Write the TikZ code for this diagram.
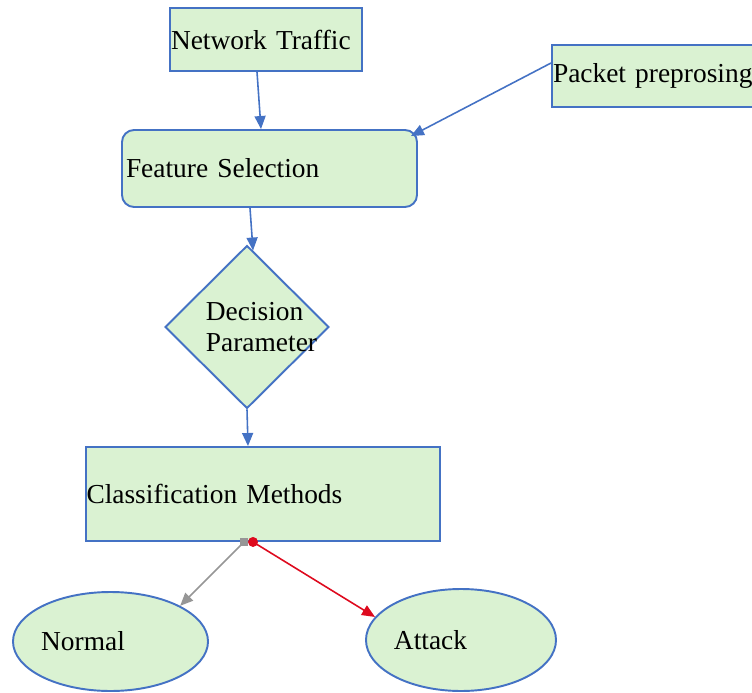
\documentclass[tikz,border=0pt]{standalone}
\usepackage{fontspec}
\setmainfont{Liberation Serif}
\usetikzlibrary{arrows.meta}
\usetikzlibrary{shapes.geometric}

\definecolor{lineblue}{RGB}{68,114,196}
\definecolor{boxgreen}{RGB}{218,242,210}
\definecolor{arrowgray}{RGB}{150,150,150}
\definecolor{arrowred}{RGB}{222,10,30}

\tikzset{
  box/.style={draw=lineblue, fill=boxgreen, line width=1.1pt, rectangle,
    align=left, inner ysep=0pt},
  roundbox/.style={box, rounded corners=0.24cm},
  decisionbox/.style={draw=lineblue, fill=boxgreen, line width=1.1pt, diamond,
    inner sep=0pt, minimum width=3.28cm, minimum height=3.26cm},
  endbox/.style={draw=lineblue, fill=boxgreen, line width=1.1pt, ellipse,
    inner sep=0pt},
  flow/.style={draw=lineblue, line width=0.9pt,
    -{Triangle[length=0.26cm, width=0.22cm]}},
}

\begin{document}
\begin{tikzpicture}[font=\fontsize{15.6}{17.6}\selectfont]
\useasboundingbox (0,0) rectangle (15.04,-13.86);

% input boxes
\node[box, inner xsep=0.02cm, text width=3.80cm, minimum height=1.26cm]
  (traffic) at (5.32,-0.79) {Network Traffic};
\node[box, inner xsep=0.02cm, text width=4.36cm, minimum height=1.24cm]
  (packet) at (13.24,-1.52) {Packet preprosing};
\node[roundbox, inner xsep=0.08cm, text width=5.74cm, minimum height=1.54cm]
  (feature) at (5.39,-3.37) {Feature Selection};

% decision and classifier
\node[decisionbox, label={[align=left, xshift=0.29cm]center:Decision\\Parameter}]
  (decision) at (4.94,-6.54) {};
\node[box, inner xsep=0.01cm, text width=7.06cm, minimum height=1.88cm]
  (classify) at (5.26,-9.88) {Classification Methods};

% outcomes
\node[endbox, minimum width=3.9cm, minimum height=1.98cm,
  label={[xshift=-0.55cm]center:Normal}] (normal) at (2.21,-12.83) {};
\node[endbox, minimum width=3.8cm, minimum height=2.04cm,
  label={[xshift=-0.61cm]center:Attack}] (attack) at (9.22,-12.8) {};

% connectors
\draw[flow] ([xshift=-0.18cm]traffic.south) -- ([xshift=-0.17cm]feature.north);
\draw[flow] ([yshift=0.26cm]packet.west) -- ([shift={(-0.14cm,-0.14cm)}]feature.north east);
\draw[flow] ([xshift=-0.39cm]feature.south) -- ([shift={(0.12cm,-0.12cm)}]decision.north);
\draw[flow] (decision.south) -- ([xshift=-0.3cm]classify.north);

\coordinate (grayout) at ([xshift=-0.38cm]classify.south);
\coordinate (redout) at ([xshift=-0.2cm]classify.south);
\draw[arrowgray, line width=0.9pt, -{Triangle[length=0.26cm, width=0.22cm]}]
  (grayout) -- (normal.north east);
\draw[arrowred, line width=0.9pt, -{Triangle[length=0.26cm, width=0.22cm]}]
  (redout) -- (attack.165);
\fill[arrowgray] ([shift={(-0.08cm,-0.08cm)}]grayout) rectangle ([shift={(0.08cm,0.08cm)}]grayout);
\fill[arrowred] (redout) circle (0.1cm);
\end{tikzpicture}
\end{document}
